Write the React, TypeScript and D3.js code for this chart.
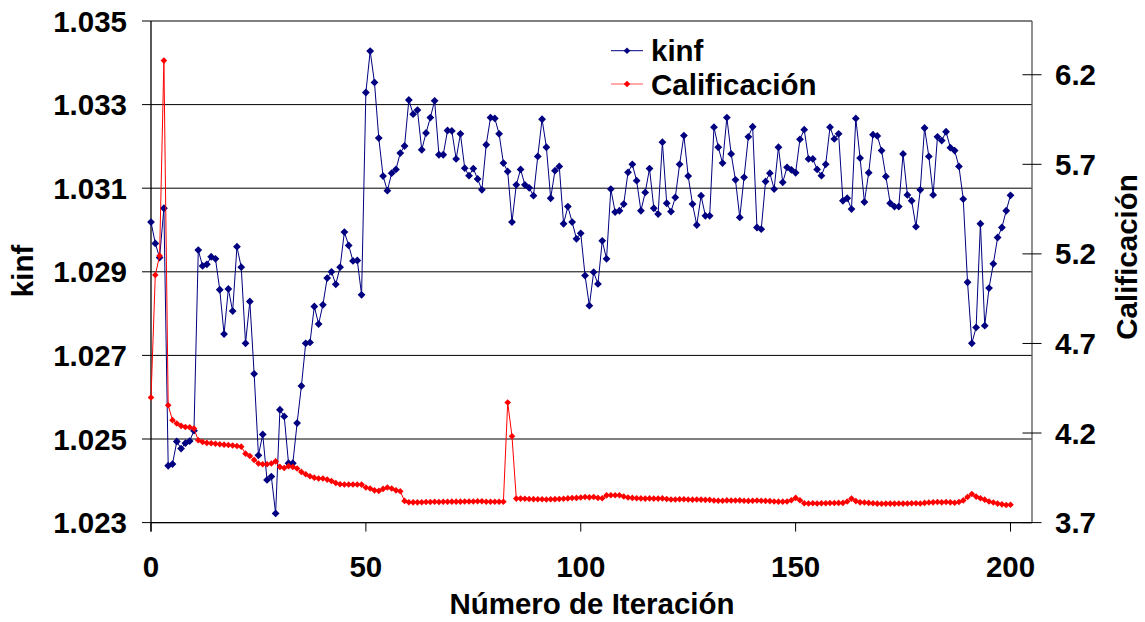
import React from "react";
import * as d3 from "d3";

// kinf per iteration (primary axis)
const kinf: number[] = [
  1.03019, 1.02968, 1.02934, 1.03052, 1.02436, 1.0244, 1.02494, 1.02477, 1.0249, 1.02495,
  1.0252, 1.02952, 1.02914, 1.02918, 1.02936, 1.02931, 1.02857, 1.02751, 1.02859, 1.02806,
  1.0296, 1.02911, 1.02729, 1.02829, 1.02656, 1.02461, 1.02511, 1.02402, 1.0241, 1.02322,
  1.0257, 1.02554, 1.02442, 1.02442, 1.02538, 1.02627, 1.02729, 1.02731, 1.02817, 1.02775,
  1.02821, 1.02885, 1.029, 1.0287, 1.02911, 1.02995, 1.02963, 1.02926, 1.02927, 1.02845,
  1.03329, 1.03428, 1.03353, 1.0322, 1.03129, 1.03094, 1.03136, 1.03145, 1.03184, 1.03201,
  1.03311, 1.03277, 1.03287, 1.03192, 1.03232, 1.03269, 1.03309, 1.0318, 1.0318, 1.03238,
  1.03237, 1.0317, 1.0323, 1.03148, 1.0313, 1.03147, 1.03122, 1.03096, 1.03204, 1.03269,
  1.03267, 1.0323, 1.0316, 1.0314, 1.03019, 1.03108, 1.03145, 1.03108, 1.03101, 1.03082,
  1.03176, 1.03265, 1.03198, 1.03076, 1.03142, 1.03152, 1.03015, 1.03056, 1.03019, 1.02979,
  1.02992, 1.02891, 1.02819, 1.02899, 1.02871, 1.02974, 1.02931, 1.03098, 1.03043, 1.03046,
  1.03062, 1.03138, 1.03157, 1.03118, 1.03046, 1.0309, 1.03147, 1.03052, 1.03038, 1.0321,
  1.03064, 1.03044, 1.03078, 1.03157, 1.03226, 1.03129, 1.03062, 1.03012, 1.03082, 1.03034,
  1.03034, 1.03246, 1.03198, 1.0316, 1.03269, 1.03182, 1.0312, 1.0303, 1.03126, 1.03223,
  1.03247, 1.03006, 1.03002, 1.03116, 1.03136, 1.03098, 1.03198, 1.03114, 1.0315, 1.03144,
  1.03137, 1.03217, 1.0324, 1.0317, 1.0317, 1.03145, 1.0313, 1.03157, 1.03246, 1.03218,
  1.0323, 1.0307, 1.03076, 1.0305, 1.03267, 1.03172, 1.03067, 1.03137, 1.03228, 1.03225,
  1.0319, 1.03128, 1.03064, 1.03056, 1.03056, 1.03182, 1.03084, 1.0307, 1.03008, 1.03096,
  1.03244, 1.03176, 1.03084, 1.03223, 1.03214, 1.03235, 1.03197, 1.0319, 1.03152, 1.03074,
  1.02875, 1.02729, 1.02767, 1.03015, 1.02771, 1.02861, 1.02919, 1.02982, 1.03006, 1.03046,
  1.03083,
];

// Calificación per iteration (secondary axis)
const calificacion: number[] = [
  4.398, 5.082, 5.189, 6.279, 4.355, 4.272, 4.253, 4.24, 4.234, 4.232,
  4.225, 4.16, 4.15, 4.145, 4.143, 4.14, 4.137, 4.135, 4.133, 4.13,
  4.128, 4.124, 4.085, 4.072, 4.05, 4.03, 4.026, 4.026, 4.03, 4.042,
  4.011, 4.005, 4.015, 4.011, 4.002, 3.983, 3.97, 3.959, 3.951, 3.946,
  3.946, 3.94, 3.932, 3.921, 3.914, 3.913, 3.913, 3.913, 3.913, 3.912,
  3.896, 3.89, 3.88, 3.877, 3.888, 3.896, 3.89, 3.88, 3.875, 3.821,
  3.814, 3.813, 3.813, 3.814, 3.815, 3.815, 3.816, 3.815, 3.816, 3.816,
  3.817, 3.817, 3.817, 3.818, 3.818, 3.818, 3.819, 3.819, 3.816, 3.816,
  3.816, 3.816, 3.816, 4.37, 4.182, 3.834, 3.834, 3.833, 3.832, 3.831,
  3.83, 3.83, 3.829, 3.83, 3.831, 3.832, 3.833, 3.835, 3.837, 3.838,
  3.84, 3.843, 3.841, 3.843, 3.838, 3.836, 3.852, 3.853, 3.853, 3.853,
  3.846, 3.84, 3.838, 3.836, 3.835, 3.834, 3.835, 3.834, 3.834, 3.835,
  3.832, 3.829, 3.829, 3.83, 3.83, 3.829, 3.828, 3.829, 3.828, 3.827,
  3.827, 3.823, 3.822, 3.822, 3.824, 3.823, 3.823, 3.824, 3.822, 3.821,
  3.822, 3.823, 3.822, 3.821, 3.82, 3.818, 3.817, 3.817, 3.818, 3.825,
  3.838, 3.825, 3.808, 3.807, 3.808, 3.807, 3.808, 3.808, 3.809, 3.809,
  3.81, 3.81, 3.818, 3.834, 3.82, 3.813, 3.812, 3.81, 3.808, 3.806,
  3.805, 3.806, 3.806, 3.806, 3.807, 3.806, 3.807, 3.808, 3.808, 3.807,
  3.81, 3.812, 3.813, 3.815, 3.813, 3.815, 3.813, 3.811, 3.815, 3.824,
  3.843, 3.86, 3.845, 3.836, 3.828, 3.818, 3.812, 3.806, 3.802, 3.798,
  3.8,
];

const xTicks = [0, 50, 100, 150, 200];
const kinfTicks = [1.023, 1.025, 1.027, 1.029, 1.031, 1.033, 1.035];
const califTicks = [3.7, 4.2, 4.7, 5.2, 5.7, 6.2];

const W = 1145;
const H = 622;
const left = 151;
const right = 1032;
const top = 21;
const bottom = 522.6;

const FONT = "'Liberation Sans', Arial, sans-serif";
const BLUE = "#000080";
const RED = "#FF0000";

const diamond = (r: number) => `M0,${-r}L${r},0L0,${r}L${-r},0Z`;

export default function App() {
  const x = d3.scaleLinear().domain([0, 205]).range([left, right]);
  const yK = d3.scaleLinear().domain([1.023, 1.035]).range([bottom, top]);
  const yC = d3.scaleLinear().domain([3.7, 6.5]).range([bottom, top]);

  const kLine = d3
    .line<number>()
    .x((_, i) => x(i))
    .y((d) => yK(d));
  const cLine = d3
    .line<number>()
    .x((_, i) => x(i))
    .y((d) => yC(d));

  const fs = 29.5;

  return (
    <svg
      width={W}
      height={H}
      style={{ position: "absolute", left: 0, top: 0, background: "#fff" }}
      fontFamily={FONT}
      fontWeight="bold"
    >
      <rect x={0} y={0} width={W} height={H} fill="#fff" />

      {/* horizontal gridlines on the kinf scale */}
      {kinfTicks.map((t) => (
        <line key={"g" + t} x1={left} x2={right} y1={yK(t)} y2={yK(t)} stroke="#000" strokeWidth={1} />
      ))}

      {/* right axis line */}
      <line x1={right} x2={right} y1={top} y2={bottom} stroke="#555" strokeWidth={1.3} />
      {/* left axis line */}
      <line x1={left} x2={left} y1={top} y2={bottom + 9} stroke="#000" strokeWidth={1.3} />
      {/* bottom axis line */}
      <line x1={left} x2={right} y1={bottom} y2={bottom} stroke="#000" strokeWidth={1.3} />

      {/* left axis ticks and labels */}
      {kinfTicks.map((t) => (
        <g key={"lk" + t}>
          <line x1={left - 9} x2={left} y1={yK(t)} y2={yK(t)} stroke="#000" />
          <text x={127} y={yK(t) + 10.5} textAnchor="end" fontSize={fs} fill="#000">
            {d3.format(".3f")(t)}
          </text>
        </g>
      ))}

      {/* right axis ticks and labels */}
      {califTicks.map((t) => (
        <g key={"rc" + t}>
          <line x1={right - 9.5} x2={right + 9.5} y1={yC(t)} y2={yC(t)} stroke="#000" />
          <text x={1055} y={yC(t) + 10.5} textAnchor="start" fontSize={fs} fill="#000">
            {d3.format(".1f")(t)}
          </text>
        </g>
      ))}

      {/* bottom axis ticks and labels */}
      {xTicks.map((t) => (
        <g key={"bx" + t}>
          <line x1={x(t)} x2={x(t)} y1={bottom} y2={bottom + 9} stroke="#000" />
          <text x={x(t)} y={577} textAnchor="middle" fontSize={fs} fill="#000">
            {t}
          </text>
        </g>
      ))}

      {/* axis titles */}
      <text x={592} y={614} textAnchor="middle" fontSize={fs} fill="#000">
        Número de Iteración
      </text>
      <text transform="translate(33,271) rotate(-90)" textAnchor="middle" fontSize={fs} fill="#000">
        kinf
      </text>
      <text transform="translate(1137,257) rotate(-90)" textAnchor="middle" fontSize={fs} fill="#000">
        Calificación
      </text>

      {/* kinf series */}
      <path d={kLine(kinf) ?? ""} fill="none" stroke={BLUE} strokeWidth={1} />
      {kinf.map((d, i) => (
        <path key={"km" + i} d={diamond(3.9)} transform={`translate(${x(i)},${yK(d)})`} fill={BLUE} />
      ))}

      {/* Calificación series */}
      <path d={cLine(calificacion) ?? ""} fill="none" stroke={RED} strokeWidth={1} />
      {calificacion.map((d, i) => (
        <path key={"cm" + i} d={diamond(3.3)} transform={`translate(${x(i)},${yC(d)})`} fill={RED} />
      ))}

      {/* legend */}
      <g>
        <line x1={611} x2={643} y1={50.7} y2={50.7} stroke={BLUE} />
        <path d={diamond(3.3)} transform="translate(627,50.7)" fill={BLUE} />
        <text x={651} y={61} fontSize={fs} fill="#000">
          kinf
        </text>
        <line x1={611} x2={643} y1={84} y2={84} stroke="#FF7070" strokeWidth={1.2} />
        <path d={diamond(3.3)} transform="translate(627,84)" fill={RED} />
        <text x={651} y={94.5} fontSize={fs} fill="#000">
          Calificación
        </text>
      </g>
    </svg>
  );
}
